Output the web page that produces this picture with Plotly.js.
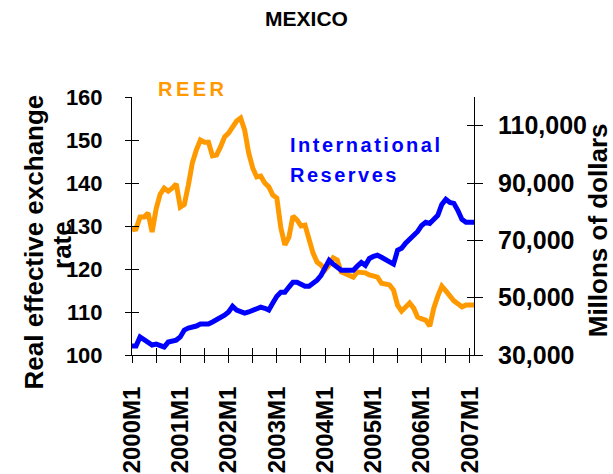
<!DOCTYPE html>
<html>
<head>
<meta charset="utf-8">
<script src="https://cdn.plot.ly/plotly-3.0.1.min.js"></script>
<style>html,body{margin:0;padding:0;background:#fff;}#chart{width:613px;height:474px;}</style>
</head>
<body>
<div id="chart"></div>
<script>
// Monthly categories 2000M1 .. 2007M2
const months = [];
for (let y = 2000; y <= 2007; y++) { for (let m = 1; m <= 12; m++) { months.push(y + 'M' + m); } }
months.length = 86;

// Real effective exchange rate (left axis)
const reer = [129.1,129.3,132.1,132.1,133.0,128.6,134.0,137.4,138.8,138.1,138.8,139.8,
134.4,135.0,139.5,144.7,147.7,150.0,149.5,149.5,146.3,146.5,148.4,150.7,
151.6,153.0,154.4,155.1,152.3,147.0,143.5,141.4,141.6,140.0,139.1,137.2,
136.5,129.5,125.6,127.4,132.3,131.4,130.0,130.2,126.7,123.7,121.6,120.9,
119.8,120.9,122.6,122.1,119.3,118.8,118.4,118.1,119.3,119.3,119.1,118.6,
118.4,118.1,116.7,116.5,116.3,115.1,111.6,110.2,111.2,112.1,110.9,108.8,
108.4,108.1,106.7,110.9,113.7,116.0,114.9,113.5,112.6,111.9,111.2,111.6,
111.6,111.6];

// International reserves, millions of dollars (right axis)
const reserves = [33100,33100,36300,35200,34200,33500,33800,33500,32800,34500,34900,35200,
36300,38700,39400,39700,40100,40800,40800,40800,41500,42200,43200,43900,
45000,47000,45700,45000,44600,45000,45700,46000,46700,46300,45700,48100,
50500,51900,51900,53700,55400,55400,54700,54000,54000,55000,56100,57800,
60600,63000,61700,60600,59600,59600,59600,59600,61000,62300,61300,63700,
64400,64800,64100,63400,62300,61700,66500,67200,69000,70300,71700,73100,
75200,76300,75900,77300,78700,82500,84300,83200,82900,80400,77300,76300,
76300,76300];

// Tick labels
const xTickVals = months.filter((m, i) => i % 6 === 0);
const xTickText = xTickVals.map(m => m.endsWith('M1') ? m : '');
const xTickIdx = xTickVals.map(m => months.indexOf(m));
const leftTicks = [100,110,120,130,140,150,160];
const rightTicks = [30000,50000,70000,90000,110000];

const FONT = '"Liberation Sans", Arial, Helvetica, sans-serif';
const ORANGE = '#FF9900', BLUE = '#0000FF';

const traces = [
  {x: months, y: reer, type: 'scatter', mode: 'lines', name: 'REER',
   line: {color: ORANGE, width: 5}, xaxis: 'x', yaxis: 'y'},
  {x: months, y: reserves, type: 'scatter', mode: 'lines', name: 'International Reserves',
   line: {color: BLUE, width: 5}, xaxis: 'x', yaxis: 'y2'},
  {x: [], y: [], type: 'scatter', mode: 'lines', xaxis: 'x2', yaxis: 'y', showlegend: false, hoverinfo: 'skip'},
  {x: [], y: [], type: 'scatter', mode: 'lines', xaxis: 'x', yaxis: 'y3', showlegend: false, hoverinfo: 'skip'},
  {x: [], y: [], type: 'scatter', mode: 'lines', xaxis: 'x', yaxis: 'y4', showlegend: false, hoverinfo: 'skip'}
];

const bold = (size) => ({family: FONT, size: size, color: '#000', weight: 'bold'});

const layout = {
  width: 613, height: 474,
  margin: {l: 132, r: 139, t: 97, b: 119, pad: 0},
  paper_bgcolor: '#fff', plot_bgcolor: '#fff',
  showlegend: false,
  font: {family: FONT, color: '#000'},
  title: {text: 'MEXICO', font: bold(21),
          xref: 'container', x: 0.5, xanchor: 'center', yref: 'container', y: 0.96, yanchor: 'middle'},
  xaxis: {type: 'category', range: [0, 85], tickvals: xTickVals, ticktext: xTickText,
          tickangle: -90, tickfont: bold(24), ticks: 'outside', ticklen: 7, tickwidth: 1, tickcolor: '#000',
          ticklabelstandoff: 14, showline: true, linecolor: '#000', linewidth: 1, showgrid: false, zeroline: false,
          fixedrange: true},
  xaxis2: {type: 'linear', overlaying: 'x', anchor: 'y', range: [0, 85], tickvals: xTickIdx,
           ticks: 'inside', ticklen: 7, tickwidth: 1, tickcolor: '#000', showticklabels: false,
           showline: false, showgrid: false, zeroline: false},
  yaxis: {range: [100, 160], tickvals: leftTicks, tickfont: bold(22), ticks: 'outside', ticklen: 6,
          tickwidth: 1, tickcolor: '#000', ticklabelstandoff: 18, showline: true, linecolor: '#000', linewidth: 1,
          showgrid: false, zeroline: false},
  yaxis2: {range: [30000, 120000], overlaying: 'y', side: 'right', anchor: 'x', tickvals: rightTicks,
           tickformat: ',d', tickfont: bold(25), ticks: 'outside', ticklen: 8, tickwidth: 1, tickcolor: '#000',
           ticklabelstandoff: 10, showline: true, linecolor: '#000', linewidth: 1, showgrid: false, zeroline: false},
  yaxis3: {range: [100, 160], overlaying: 'y', side: 'left', anchor: 'x', tickvals: leftTicks,
           ticks: 'inside', ticklen: 7, tickwidth: 1, tickcolor: '#000', showticklabels: false,
           showline: false, showgrid: false, zeroline: false},
  yaxis4: {range: [30000, 120000], overlaying: 'y', side: 'right', anchor: 'x', tickvals: rightTicks,
           ticks: 'inside', ticklen: 7, tickwidth: 1, tickcolor: '#000', showticklabels: false,
           showline: false, showgrid: false, zeroline: false},
  annotations: [
    {text: '<span style="letter-spacing:3.5px">REER</span>', xref: 'paper', yref: 'paper', x: 0.178, y: 1.031,
     xanchor: 'center', yanchor: 'middle', showarrow: false,
     font: {family: FONT, size: 20, color: ORANGE, weight: 'bold'}},
    {text: '<span style="letter-spacing:2.5px">International</span>', xref: 'paper', yref: 'paper', x: 0.456, y: 0.814,
     xanchor: 'left', yanchor: 'middle', showarrow: false,
     font: {family: FONT, size: 20, color: BLUE, weight: 'bold'}},
    {text: '<span style="letter-spacing:2.5px">Reserves</span>', xref: 'paper', yref: 'paper', x: 0.456, y: 0.698,
     xanchor: 'left', yanchor: 'middle', showarrow: false,
     font: {family: FONT, size: 20, color: BLUE, weight: 'bold'}},
    {text: 'Real effective exchange', xref: 'paper', yref: 'paper', x: -0.288, y: 0.438,
     xanchor: 'center', yanchor: 'middle', textangle: -90, showarrow: false,
     font: bold(26)},
    {text: 'rate', xref: 'paper', yref: 'paper', x: -0.205, y: 0.426,
     xanchor: 'center', yanchor: 'middle', textangle: -90, showarrow: false,
     font: bold(26)},
    {text: 'Millons of dollars', xref: 'paper', yref: 'paper', x: 1.363, y: 0.484,
     xanchor: 'center', yanchor: 'middle', textangle: -90, showarrow: false,
     font: bold(26)}
  ]
};

Plotly.newPlot('chart', traces, layout, {staticPlot: true, displayModeBar: false});
</script>
</body>
</html>
